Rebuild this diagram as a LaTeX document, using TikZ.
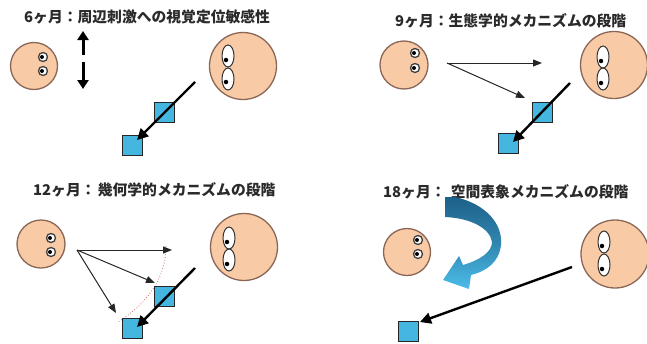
\documentclass[tikz,border=0pt]{standalone}
\usepackage{fontspec}
\newfontfamily\jp{Noto Sans CJK JP}
\usetikzlibrary{arrows.meta,shapes.geometric}
\definecolor{skin}{HTML}{F8CBA6}
\definecolor{skinline}{HTML}{8A6656}
\definecolor{boxblue}{HTML}{45B6E0}
\definecolor{titlegray}{HTML}{2A2A2A}
\definecolor{turnDark}{HTML}{1D6189}
\definecolor{turnLight}{HTML}{4CBDEA}
\definecolor{arcred}{HTML}{C86A6A}
\tikzset{
  face/.style={circle, draw=skinline, fill=skin, line width=1.3pt, inner sep=0pt},
  smalleye/.style={circle, draw=black!75, fill=white, line width=1.3pt, minimum size=9pt, inner sep=0pt},
  bigeye/.style={ellipse, draw=black!80, fill=white, line width=1pt, minimum width=12pt, minimum height=22pt, inner sep=0pt},
  pupil/.style={circle, fill=black, minimum size=4.5pt, inner sep=0pt},
  target/.style={draw=black!85, fill=boxblue, line width=1pt, minimum size=20pt, inner sep=0pt},
  title/.style={anchor=west, inner sep=0pt, text=titlegray, font=\jp\bfseries\fontsize{14.8}{15}\selectfont},
  gaze/.style={line width=2.4pt, -{Triangle[length=11pt,width=11pt]}},
  motion/.style={line width=3pt, -{Triangle[length=9pt,width=11pt]}},
  thinarrow/.style={line width=1pt, black!85, -{Triangle[length=9pt,width=7pt]}},
}
\begin{document}
\begin{tikzpicture}[x=1pt,y=-1pt]
\useasboundingbox (0,0) rectangle (647,343);

% ---------- 6 months ----------
\node[title] (t1) at (24,17) {6ヶ月：周辺刺激への視覚定位敏感性};
\node[face, minimum size=47pt] (f1) at (34,66) {};
\node[smalleye] (f1e1) at (43,57) {};
\node[smalleye] (f1e2) at (43,71) {};
\node[pupil, minimum size=4pt] at (42,57) {};
\node[pupil, minimum size=4pt] at (42,71) {};
\coordinate (up0) at (83,55);
\coordinate (up1) at (83,31);
\coordinate (dn0) at (83,62);
\coordinate (dn1) at (83,89);
\draw[motion] (up0) -- (up1);
\draw[motion] (dn0) -- (dn1);
\node[face, minimum size=67pt] (F1) at (243,66) {};
\node[bigeye] (F1e1) at (228,56) {};
\node[bigeye] (F1e2) at (228,79) {};
\node[pupil] at (226,60) {};
\node[pupil] at (226,82) {};
\node[target] (a1) at (164,112) {};
\node[target] (b1) at (132,145) {};
\coordinate (g1) at (195,82);
\coordinate (g1e) at (137,140);
\draw[gaze] (g1) -- (g1e);

% ---------- 9 months ----------
\node[title] (t2) at (395,21) {9ヶ月：生態学的メカニズムの段階};
\node[face, minimum size=48pt] (f2) at (404,65) {};
\node[smalleye] (f2e1) at (415,53) {};
\node[smalleye] (f2e2) at (415,68) {};
\node[pupil, minimum size=4pt] at (414,53) {};
\node[pupil, minimum size=4pt] at (414,68) {};
\node[face, minimum size=67pt] (F2) at (614,65) {};
\node[bigeye] (F2e1) at (603,57) {};
\node[bigeye] (F2e2) at (603,79) {};
\node[pupil] at (601,61) {};
\node[pupil] at (601,83) {};
\node[target] (a2) at (542,112) {};
\node[target] (b2) at (508,143) {};
\coordinate (o2) at (447,63);
\coordinate (h2) at (542,63);
\coordinate (d2) at (525,98);
\draw[thinarrow] (o2) -- (h2);
\draw[thinarrow] (o2) -- (d2);
\coordinate (g2) at (570,83);
\coordinate (g2e) at (513,142);
\draw[gaze] (g2) -- (g2e);

% ---------- 12 months ----------
\node[title] (t3) at (33,190) {12ヶ月：\hspace{0.15em}幾何学的メカニズムの段階};
\node[face, minimum size=48pt] (f3) at (41,244) {};
\node[smalleye] (f3e1) at (51,238) {};
\node[smalleye] (f3e2) at (51,252) {};
\node[pupil, minimum size=4pt] at (50,238) {};
\node[pupil, minimum size=4pt] at (50,252) {};
\node[face, minimum size=67pt] (F3) at (244,247) {};
\node[bigeye] (F3e1) at (229,238) {};
\node[bigeye] (F3e2) at (229,260) {};
\node[pupil] at (227,242) {};
\node[pupil] at (227,264) {};
\coordinate (arcA) at (166,246);
\coordinate (arcB) at (118,322);
\draw[arcred, line width=0.8pt, dotted] (arcA) .. controls (166,280) and (145,305) .. (arcB);
\node[target] (a3) at (164,296) {};
\node[target] (b3) at (132,328) {};
\coordinate (o3) at (77,250);
\coordinate (h3) at (172,250);
\coordinate (m3) at (155,283);
\coordinate (l3) at (116,313);
\draw[thinarrow] (o3) -- (h3);
\draw[thinarrow] (o3) -- (m3);
\draw[thinarrow] (o3) -- (l3);
\coordinate (g3) at (195,268);
\coordinate (g3e) at (137,327);
\draw[gaze] (g3) -- (g3e);

% ---------- 18 months ----------
\node[title] (t4) at (383,192) {18ヶ月：\hspace{0.35em}空間表象メカニズムの段階};
\node[face, minimum size=47pt] (f4) at (407,252) {};
\node[smalleye] (f4e1) at (418,240) {};
\node[smalleye] (f4e2) at (418,254) {};
\node[pupil, minimum size=4pt] at (417,240) {};
\node[pupil, minimum size=4pt] at (417,254) {};
\node[face, minimum size=68pt] (F4) at (615,254) {};
\node[bigeye] (F4e1) at (604,242) {};
\node[bigeye] (F4e2) at (604,265) {};
\node[pupil] at (602,246) {};
\node[pupil] at (602,269) {};
\node[target] (b4) at (408,331) {};
% turning band: the viewpoint swings round
\shade[top color=turnDark, bottom color=turnLight, middle color=turnDark!60!turnLight]
  (445,197) -- (455,197)
  .. controls (486,204) and (503,224) .. (501,245)
  .. controls (499,262) and (487,271) .. (471,275)
  -- (469,289) -- (443,280) -- (459,256) -- (463,265)
  .. controls (480,260) and (492,252) .. (492,242)
  .. controls (490,228) and (470,218) .. (445,217) -- cycle;
\coordinate (g4) at (572,267);
\coordinate (g4e) at (420,322);
\draw[gaze] (g4) -- (g4e);
\end{tikzpicture}
\end{document}
